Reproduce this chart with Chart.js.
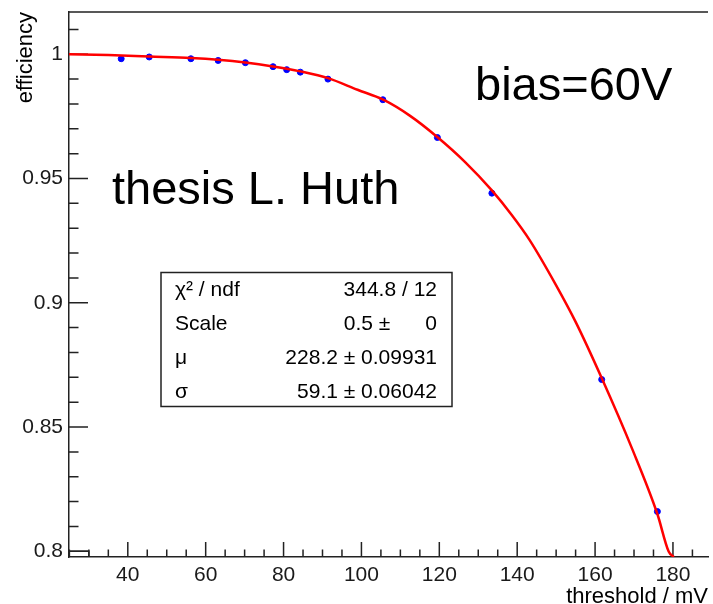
<!DOCTYPE html>
<html>
<head>
<meta charset="utf-8">
<script src="https://cdn.jsdelivr.net/npm/chart.js@4.4.0/dist/chart.umd.min.js"></script>
<style>
  body { margin: 0; background: #fff; }
  #wrap { width: 713px; height: 604px; }
</style>
</head>
<body>
<div id="wrap"><canvas id="graph" width="713" height="604"></canvas></div>
<script>
// measured efficiency vs threshold
const thresholds = [38.3, 45.5, 56.2, 63.2, 70.2, 77.3, 80.8, 84.3, 91.4, 105.5, 119.5, 133.5, 161.7, 176.0];
const efficiencies = [0.9982, 0.9989, 0.9982, 0.9975, 0.9966, 0.9950, 0.9938, 0.9928, 0.9900, 0.9817, 0.9665, 0.9441, 0.8691, 0.8160];

// fit curve
const fitX = [24.9, 35, 45.5, 56.2, 63.2, 70.2, 77.3, 84.3, 91.4, 99.0, 105.6, 112.5, 119.4, 126.5, 133.5, 138.5, 143.2, 150.0, 155.1, 161.7, 169.5, 176.0, 178.9, 180.2];
const fitY = [1.0, 0.9997, 0.9991, 0.9985, 0.9978, 0.9967, 0.9951, 0.9931, 0.9904, 0.9857, 0.9817, 0.9752, 0.9668, 0.9568, 0.9452, 0.9355, 0.9252, 0.9070, 0.8920, 0.8697, 0.8413, 0.8150, 0.7999, 0.7977];

const xTicks = [40, 60, 80, 100, 120, 140, 160, 180];
const yTicks = [0.8, 0.85, 0.9, 0.95, 1];
const yTickLabels = ['0.8', '0.85', '0.9', '0.95', '1'];

const statsLabels = ['\u03c7\u00b2 / ndf', 'Scale', '\u03bc', '\u03c3'];
const statsValues = ['344.8 / 12', '0.5 \u00b1\u00a0\u00a0\u00a0\u00a0\u00a0 0', '228.2 \u00b1 0.09931', '59.1 \u00b1 0.06042'];

const xMin = 24.9, xMax = 189;
const yMin = 0.7977, yMax = 1.017;

const FONT = '"Liberation Sans", Arial, Helvetica, sans-serif';
let ctx = document.getElementById('graph');

const rootStyle = {
    id: 'rootStyle',
    // frame and inside ticks go under the graph, like ROOT
    beforeDatasetsDraw: (chart) => {
        const {ctx, chartArea: a} = chart;
        const x = chart.scales.x, y = chart.scales.y;
        ctx.save();
        ctx.strokeStyle = '#222';
        ctx.lineWidth = 1.5;
        ctx.beginPath();
        ctx.moveTo(a.left, a.top);
        ctx.lineTo(a.right, a.top);
        for (let v = 25; v <= 185; v += 5) {
            const px = x.getPixelForValue(v);
            const len = v % 20 === 0 ? 15 : 7.5;
            ctx.moveTo(px, a.bottom);
            ctx.lineTo(px, a.bottom - len);
        }
        for (let i = 0; i <= 21; i++) {
            const py = y.getPixelForValue(0.8 + i * 0.01);
            const len = i % 5 === 0 ? 19 : 9.5;
            ctx.moveTo(a.left, py);
            ctx.lineTo(a.left + len, py);
        }
        ctx.stroke();
        ctx.restore();
    },
    afterDraw: (chart) => {
        const {ctx, chartArea: a} = chart;
        ctx.save();
        ctx.fillStyle = '#000';
        ctx.strokeStyle = '#222';
        ctx.lineWidth = 1.5;
        // axis titles
        ctx.font = '22px ' + FONT;
        ctx.textAlign = 'right';
        ctx.textBaseline = 'alphabetic';
        ctx.fillText('threshold / mV', 708, 603);
        ctx.save();
        ctx.translate(32, a.top);
        ctx.rotate(-Math.PI / 2);
        ctx.textAlign = 'right';
        ctx.fillText('efficiency', 0, 0);
        ctx.restore();

        // labels on the plot
        ctx.font = '47px ' + FONT;
        ctx.textAlign = 'left';
        ctx.fillText('thesis L. Huth', 112, 203.5);
        ctx.fillText('bias=60V', 475, 100);

        // fit statistics box
        ctx.fillStyle = '#fff';
        ctx.fillRect(161, 272.5, 291, 134);
        ctx.strokeRect(161, 272.5, 291, 134);
        ctx.fillStyle = '#000';
        ctx.font = '21px ' + FONT;
        statsLabels.forEach((t, i) => {
            const by = 296 + i * 34;
            ctx.textAlign = 'left';
            ctx.fillText(t, 175, by);
            ctx.textAlign = 'right';
            ctx.fillText(statsValues[i], 437, by);
        });
        ctx.restore();
    }
};

const chart = new Chart(ctx, {
    type: 'scatter',
    data: {
        datasets: [{
            label: 'fit',
            type: 'line',
            data: fitX.map((v, i) => ({x: v, y: fitY[i]})),
            borderColor: '#ff0000',
            borderWidth: 2.5,
            pointRadius: 0,
            cubicInterpolationMode: 'monotone',
            fill: false,
            order: 0
        }, {
            label: 'efficiency',
            data: thresholds.map((v, i) => ({x: v, y: efficiencies[i]})),
            backgroundColor: '#0000ff',
            borderColor: '#0000ff',
            pointRadius: 3,
            order: 1
        }, {
            label: 'frame box',
            type: 'line',
            data: [{x: 30, y: yMin}, {x: 30, y: 0.8}, {x: xMin, y: 0.8}],
            borderColor: '#222',
            borderWidth: 1.5,
            pointRadius: 0,
            fill: false,
            order: 2
        }]
    },
    options: {
        responsive: false,
        animation: false,
        layout: { padding: { top: 12, right: 0, left: 0, bottom: 0 } },
        plugins: { legend: { display: false }, tooltip: { enabled: false } },
        scales: {
            x: {
                type: 'linear',
                min: xMin,
                max: xMax,
                afterBuildTicks: s => { s.ticks = xTicks.map(v => ({value: v})); },
                afterFit: s => { s.height = 47; s.paddingLeft = 0; s.paddingRight = 0; },
                grid: { display: false, drawTicks: false },
                border: { display: true, color: '#222', width: 1.5 },
                ticks: { padding: 6, color: '#1a1a1a', maxRotation: 0, autoSkip: false, font: { family: FONT, size: 21 } }
            },
            y: {
                type: 'linear',
                min: yMin,
                max: yMax,
                afterBuildTicks: s => { s.ticks = yTicks.map(v => ({value: v})); },
                afterFit: s => { s.width = 69; s.paddingTop = 0; s.paddingBottom = 0; },
                grid: { display: false, drawTicks: false },
                border: { display: true, color: '#222', width: 1.5 },
                ticks: {
                    padding: 6,
                    color: '#1a1a1a',
                    autoSkip: false,
                    font: { family: FONT, size: 21 },
                    callback: (v, i) => yTickLabels[i]
                }
            }
        }
    },
    plugins: [rootStyle]
});
</script>
</body>
</html>
